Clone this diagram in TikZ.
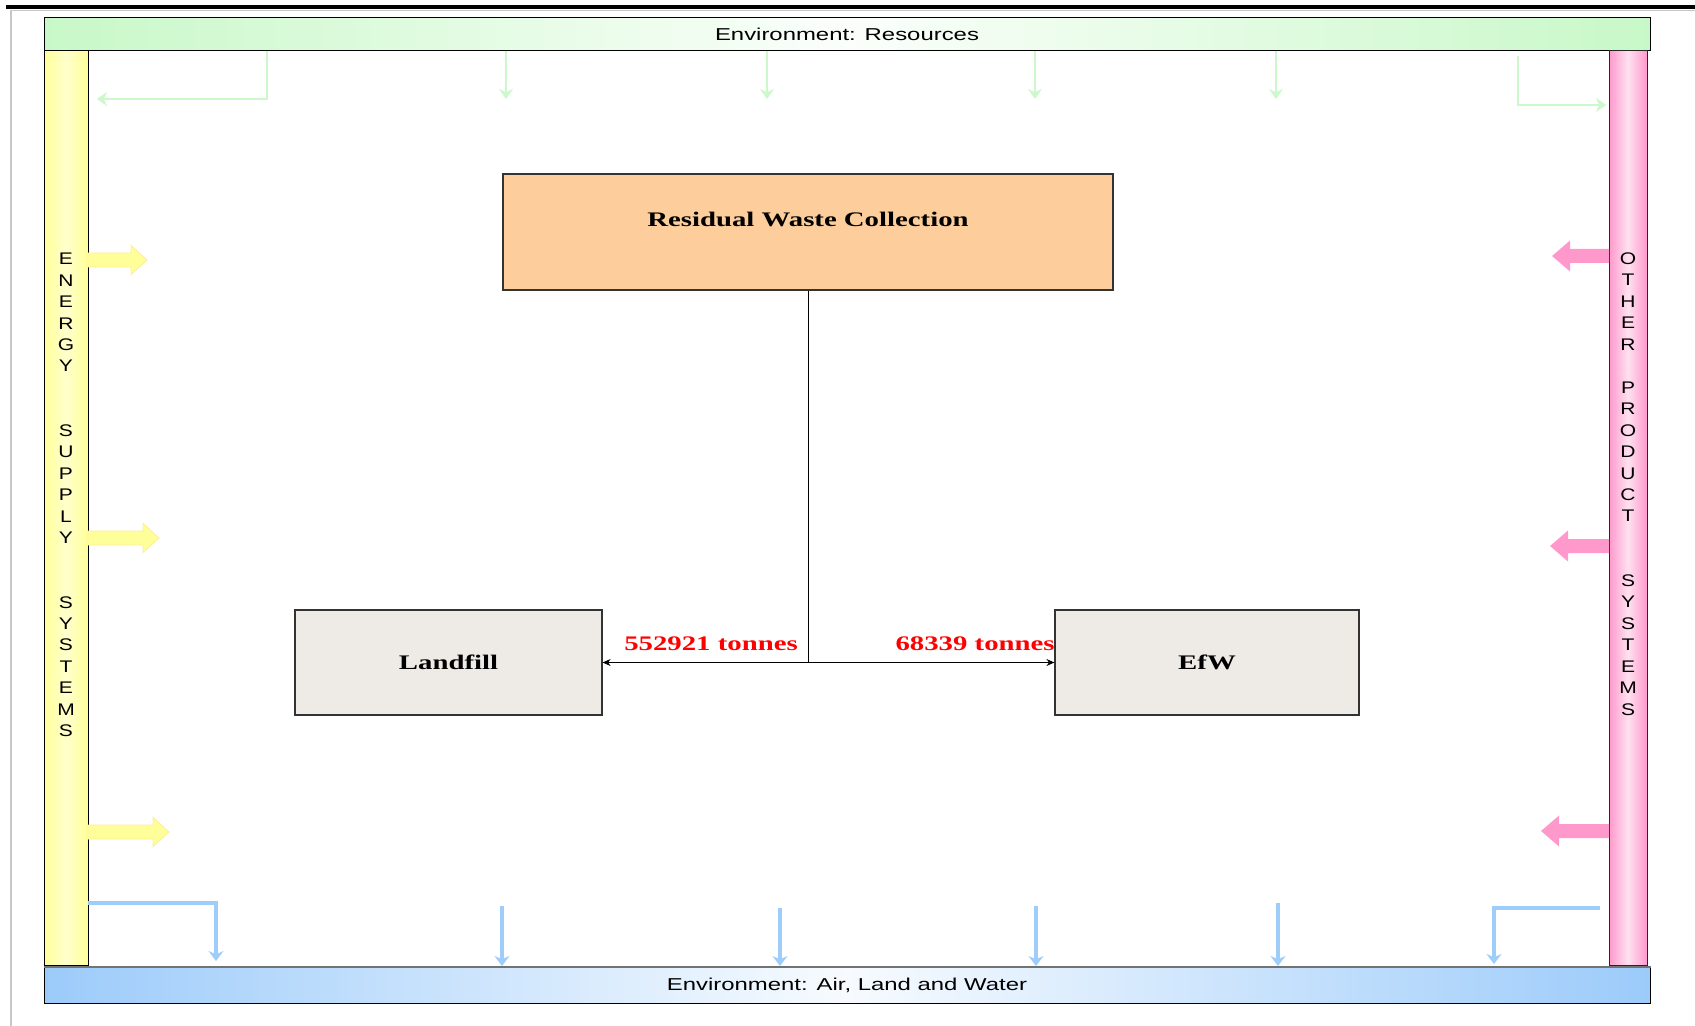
\documentclass[tikz,border=0pt]{standalone}
\usepackage{fontspec}
\usetikzlibrary{arrows.meta,calc}
\newfontfamily\serifwide[FakeStretch=1.39]{Liberation Serif}
\newfontfamily\sanswide[FakeStretch=1.39]{Liberation Sans}
\newfontfamily\sidewide[FakeStretch=1.25]{Liberation Sans}
\definecolor{resgreen}{RGB}{200,248,200}
\definecolor{arrgreen}{RGB}{204,248,204}
\definecolor{envblue}{RGB}{156,203,250}
\definecolor{arrblue}{RGB}{158,205,250}
\definecolor{enyellow}{RGB}{255,255,153}
\definecolor{enyedge}{RGB}{255,236,150}
\definecolor{prpink}{RGB}{255,153,204}
\definecolor{collect}{RGB}{253,205,155}
\definecolor{sinkfill}{RGB}{238,235,231}
\begin{document}
\begin{tikzpicture}[x=0.5pt,y=-0.5pt,
  stage/.style={draw=black!80, line width=0.6pt, inner sep=0pt,
    font=\serifwide\bfseries\fontsize{10.35}{12}\selectfont},
  qty/.style={inner sep=0pt, text=red,
    font=\serifwide\bfseries\fontsize{10.35}{12}\selectfont},
  flow/.style={draw=black, line width=0.5pt, -{Stealth[length=4pt,width=3.5pt]}},
  envbar/.style={draw=black, line width=0.5pt, inner sep=0pt,
    font=\sanswide\fontsize{8.6}{10}\selectfont},
  sidetext/.style={inner sep=0pt, align=center,
    font=\sidewide\fontsize{8.4}{10.73}\selectfont},
  resflow/.style={draw=arrgreen, line width=1.3pt, -{Stealth[length=5pt,width=7pt]}},
  emflow/.style={draw=arrblue, line width=1.7pt, -{Stealth[length=5pt,width=7.5pt]}}
]
% canvas
\fill[white] (0,0) rectangle (1695,1026);
\useasboundingbox (0,0) rectangle (1695,1026);
\fill[black] (6,5) rectangle (1695,9.5);
\draw[black!22, line width=0.8pt] (11,10.5) -- (1695,10.5);
\draw[black!22, line width=1pt] (11,10.5) -- (11,1026);

% surrounding systems
\node[envbar, minimum width=803pt, minimum height=16.5pt,
  left color=resgreen, right color=resgreen, middle color=white!92!resgreen]
  (res) at (847,34.5) {Environment: Resources};
\node[envbar, minimum width=803pt, minimum height=18pt,
  left color=envblue, right color=envblue, middle color=white!92!envblue]
  (env) at (847,985) {Environment: Air, Land and Water};
\draw[black!55, line width=1pt] (env.north west) -- (env.north east);
\node[draw=black, line width=0.5pt, minimum width=22pt, minimum height=457pt,
  left color=enyellow, right color=enyellow, middle color=white!50!enyellow]
  (energy) at (66,508) {};
\node[draw=black!85, line width=0.5pt, minimum width=19pt, minimum height=457pt,
  left color=prpink, right color=prpink, middle color=white!70!prpink]
  (other) at (1628,508) {};
\node[sidetext] (energyt) at (66,495)
  {E\\N\\E\\R\\G\\Y\\[21.46pt]S\\U\\P\\P\\L\\Y\\[21.46pt]S\\Y\\S\\T\\E\\M\\S};
\node[sidetext] (othert) at (1628,484)
  {O\\T\\H\\E\\R\\[10.73pt]P\\R\\O\\D\\U\\C\\T\\[21.46pt]S\\Y\\S\\T\\E\\M\\S};

% resource inputs
\draw[resflow] (267,51) |- (97,99);
\foreach \xx in {506,767,1035,1276}
  \draw[resflow] (\xx,51) -- (\xx,99);
\draw[resflow] (1518,56) |- (1606,105);

% emissions
\draw[emflow] (88,903) -| (216,961);
\foreach \xx/\yy in {502/906,780/908,1036/906,1278/903}
  \draw[emflow] (\xx,\yy) -- (\xx,966);
\draw[emflow] (1600,908) -| (1494,964);

% energy supply block arrows
\foreach \yy/\tip in {260/147,538/159,832/169}
  \filldraw[fill=enyellow, draw=enyedge, line width=0.4pt]
    (88,\yy-7) -- (\tip-16,\yy-7) -- (\tip-16,\yy-14.5) -- (\tip,\yy)
    -- (\tip-16,\yy+14.5) -- (\tip-16,\yy+7) -- (88,\yy+7) -- cycle;
% other product block arrows
\foreach \yy/\tip in {256/1552,546/1550,831/1541}
  \fill[prpink]
    (1609,\yy-7) -- (\tip+18,\yy-7) -- (\tip+18,\yy-15.5) -- (\tip,\yy)
    -- (\tip+18,\yy+15.5) -- (\tip+18,\yy+7) -- (1609,\yy+7) -- cycle;

% process stages
\node[stage, fill=collect, minimum width=305pt, minimum height=58pt] (rwc) at (808,232) {};
\node[inner sep=0pt, font=\serifwide\bfseries\fontsize{10.35}{12}\selectfont]
  (rwct) at (808,219) {Residual Waste Collection};
\node[stage, fill=sinkfill, minimum width=153.5pt, minimum height=52.5pt] (land) at (448.5,662.5) {Landfill};
\node[stage, fill=sinkfill, minimum width=152pt, minimum height=52.5pt] (efw) at (1207,662.5) {EfW};

% flows
\draw[line width=0.5pt] (rwc.south) -- (rwc.south |- land.east) coordinate (split);
\draw[flow] (split) -- (land.east);
\draw[flow] (split) -- (efw.west);
\node[qty] (toland) at (711,644) {552921 tonnes};
\node[qty, anchor=east] (toefw) at (1055,644) {68339 tonnes};
\end{tikzpicture}
\end{document}
